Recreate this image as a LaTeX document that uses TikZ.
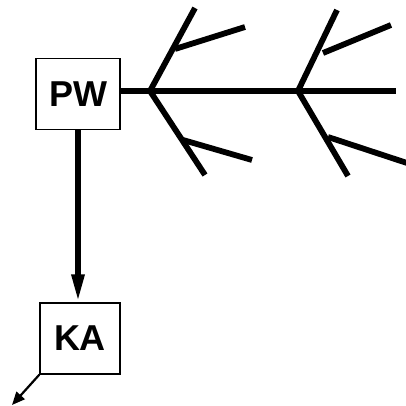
\documentclass[tikz,border=0pt]{standalone}
\usepackage{fontspec}
\newfontfamily\boxfont{Liberation Sans}
\usetikzlibrary{positioning,arrows.meta,calc}

\tikzset{
  unit/.style={draw,line width=1.4pt,minimum width=84pt,minimum height=71pt,inner sep=0pt,font=\boxfont\bfseries\fontsize{36}{36}\selectfont},
  rod/.style={line width=5.8pt},
}

\begin{document}
\begin{tikzpicture}[x=1pt,y=-1pt]

  \useasboundingbox (0,0) rectangle (405,406);

  \node[unit] (pw) at (78,94) {PW};
  \node[unit,minimum width=80pt] (ka) at (80,338.5) {KA};

  % branching points
  \coordinate (b1) at (150,91);
  \coordinate (b1u) at (195,8);
  \coordinate (b1us) at (175,49);
  \coordinate (b1ue) at (245,27);
  \coordinate (b1d) at (205,175);
  \coordinate (b1ds) at (183,140);
  \coordinate (b1de) at (252,160);
  \coordinate (b2) at (298,91);
  \coordinate (b2u) at (337,10);
  \coordinate (b2us) at (323,53);
  \coordinate (b2ue) at (391,25);
  \coordinate (b2d) at (348,176);
  \coordinate (b2ds) at (328,137);
  \coordinate (b2de) at (407,163);
  \coordinate (tip) at (396,91);
  \coordinate (out) at (12,405);

  \draw[rod] (pw.east |- b1) -- (tip);
  \draw[rod] (b1) -- (b1u);
  \draw[rod] (b1us) -- (b1ue);
  \draw[rod] (b1) -- (b1d);
  \draw[rod] (b1ds) -- (b1de);
  \draw[rod] (b2) -- (b2u);
  \draw[rod] (b2us) -- (b2ue);
  \draw[rod] (b2) -- (b2d);
  \draw[rod] (b2ds) -- (b2de);

  \draw[rod,-{Triangle[length=28pt,width=12pt]}] (pw.south) -- (pw.south |- ka.north);
  \draw[line width=2.2pt,-{Triangle[length=13pt,width=11pt]}] (ka.south west) -- (out);

\end{tikzpicture}
\end{document}
